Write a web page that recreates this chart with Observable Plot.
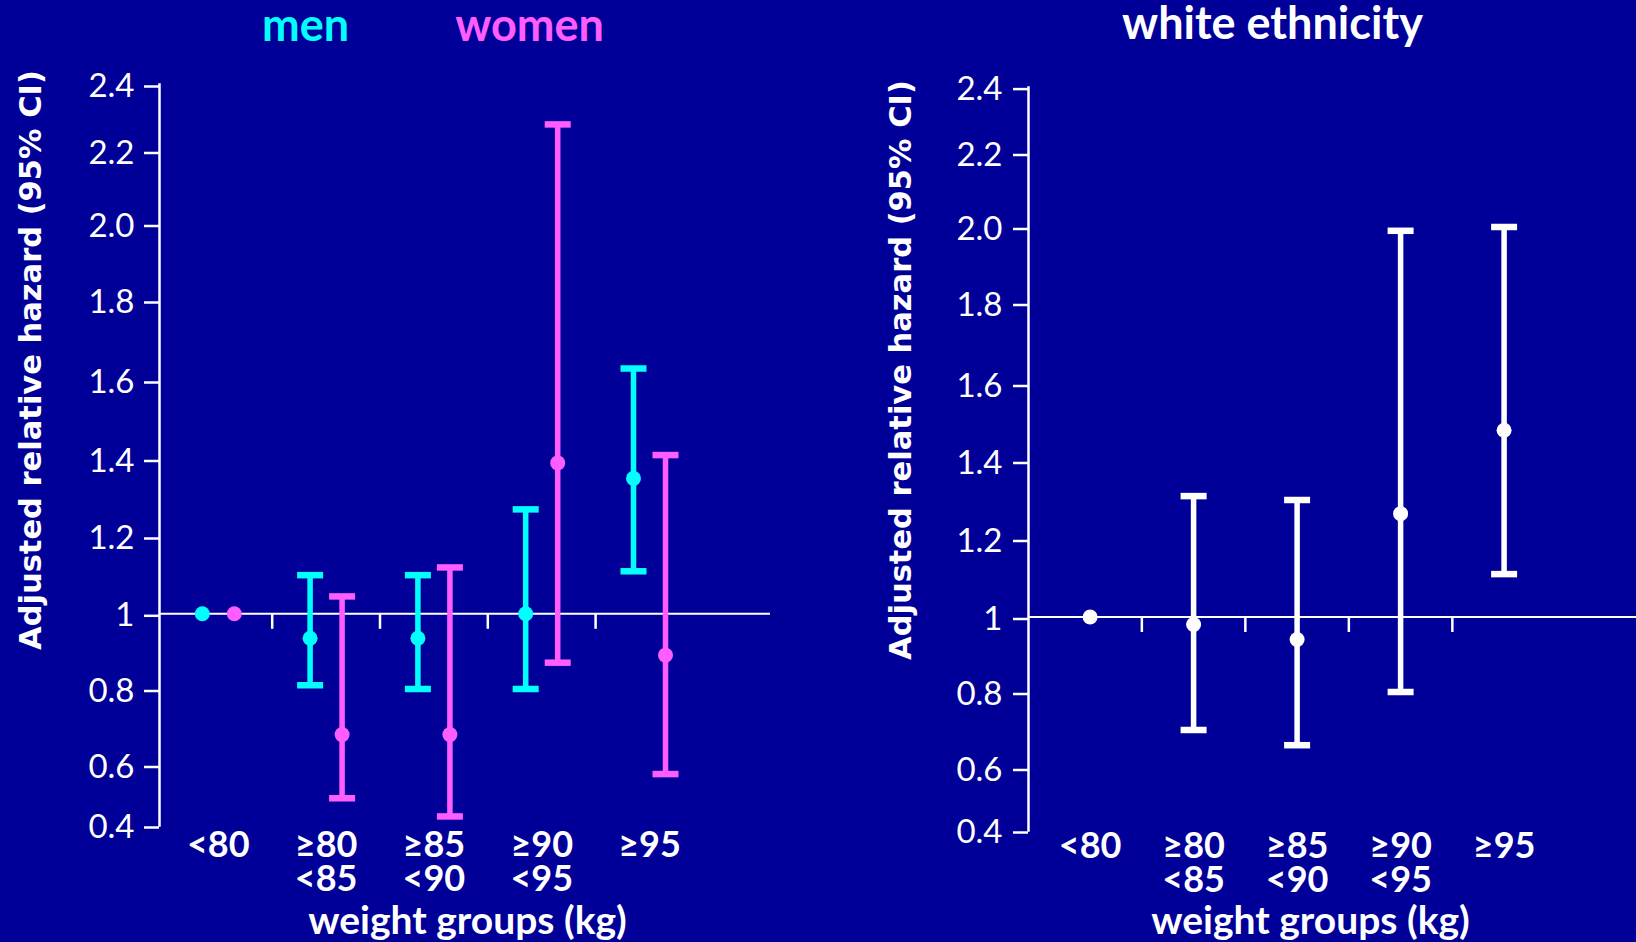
<!DOCTYPE html>
<html><head><meta charset="utf-8">
<script src="https://cdn.jsdelivr.net/npm/d3@7"></script>
<script src="https://cdn.jsdelivr.net/npm/@observablehq/plot@0.6"></script>
<style>
html,body{margin:0;padding:0;background:#000099;}
#wrap{display:flex;width:1636px;height:942px;overflow:hidden;}
#wrap svg{display:block;}
</style></head><body><div id="wrap"></div>
<script>
// ---- data ----
const groups = ["<80", "≥80\n<85", "≥85\n<90", "≥90\n<95", "≥95"];
const yTicks = [0.4, 0.6, 0.8, 1.0, 1.2, 1.4, 1.6, 1.8, 2.0, 2.2, 2.4];
const yTickLabels = ["0.4", "0.6", "0.8", "1", "1.2", "1.4", "1.6", "1.8", "2.0", "2.2", "2.4"];
const refValue = 1;

const menEst = [1.00, 0.935, 0.935, 1.00, 1.35];
const menLo  = [null, 0.81, 0.80, 0.80, 1.11];
const menHi  = [null, 1.10, 1.10, 1.27, 1.63];

const womenEst = [1.00, 0.68, 0.68, 1.39, 0.89];
const womenLo  = [null, 0.49, 0.43, 0.87, 0.57];
const womenHi  = [null, 1.045, 1.12, 2.28, 1.41];

const whiteEst = [1.00, 0.98, 0.94, 1.265, 1.48];
const whiteLo  = [null, 0.70, 0.66, 0.80, 1.11];
const whiteHi  = [null, 1.31, 1.30, 1.99, 2.00];

const yTitle = "Adjusted relative hazard (95% CI)";
const xTitle = "weight groups (kg)";

// ---- styles ----
const BG = "#000099", CYAN = "#00ffff", PINK = "#ff5dff", WHITE = "#ffffff";
const capSymbol = {draw(ctx) { ctx.moveTo(-13, 0); ctx.lineTo(13, 0); }};
const sepSymbol = {draw(ctx) { ctx.moveTo(0, 0); ctx.lineTo(0, 15); }};

const rows = (est, lo, hi) => est.map((e, i) => ({i, est: e, lo: lo[i], hi: hi[i]}));
const seps = d3.range(groups.length - 1).map(i => i + 0.5);

function seriesMarks(data, color, dx) {
  const bars = data.filter(d => d.lo != null);
  return [
    Plot.ruleX(bars, {x: "i", y1: "lo", y2: "hi", dx, stroke: color, strokeWidth: 5.5}),
    Plot.dot(bars, {x: "i", y: "hi", dx, symbol: capSymbol, fill: "none", stroke: color, strokeWidth: 6.5}),
    Plot.dot(bars, {x: "i", y: "lo", dx, symbol: capSymbol, fill: "none", stroke: color, strokeWidth: 6.5}),
    Plot.dot(data, {x: "i", y: "est", dx, r: 7.5, fill: color, stroke: "none"})
  ];
}

function panel({xRange, yRange, marginLeft, marginRight, marginTop, marginBottom, series, titles, yLabel, xLabel, tickPadding, catDy}) {
  return Plot.plot({
    width: 818, height: 942,
    marginLeft, marginRight, marginTop, marginBottom,
    x: {type: "linear", domain: [0, groups.length - 1], range: xRange, axis: null},
    y: {type: "linear", domain: yTicks, range: yRange, axis: null},
    style: {background: BG, color: WHITE, fontFamily: "Lato, sans-serif", overflow: "visible"},
    marks: [
      Plot.frame({anchor: "left", stroke: WHITE, strokeWidth: 2.5}),
      Plot.axisY({ticks: yTicks, tickFormat: (d) => yTickLabels[yTicks.indexOf(d)], tickSize: 15, tickPadding,
        stroke: WHITE, strokeWidth: 2.5, fill: WHITE, fontSize: 33, fontFamily: "Lato, sans-serif", dy: 2}),
      Plot.ruleY([refValue], {stroke: WHITE, strokeWidth: 2}),
      Plot.dot(seps, {x: d => d, y: () => refValue, symbol: sepSymbol, fill: "none", stroke: WHITE, strokeWidth: 2.5}),
      ...series.flatMap(s => seriesMarks(s.data, s.color, s.dx)),
      Plot.text(groups, {x: (d, i) => i, frameAnchor: "bottom", lineAnchor: "top", dy: catDy, lineHeight: 0.95,
        fontSize: 36, fontWeight: "bold", fill: WHITE, fontFamily: "Lato, sans-serif"}),
      Plot.text([xTitle], {frameAnchor: "bottom-left", textAnchor: "middle", lineAnchor: "bottom", dx: xLabel.dx, dy: xLabel.dy,
        fontSize: 39, fontWeight: "bold", fill: WHITE, fontFamily: "Lato, sans-serif"}),
      Plot.text([yTitle], {frameAnchor: "left", textAnchor: "middle", rotate: -90, dx: yLabel.dx, dy: yLabel.dy,
        fontSize: 30.5, fontWeight: "bold", fill: WHITE, fontFamily: "DejaVu Sans, sans-serif"}),
      ...titles.map(t => Plot.text([t.text], {frameAnchor: "top-left", textAnchor: "middle", lineAnchor: "bottom", dx: t.dx, dy: t.dy,
        fontSize: 45, fontWeight: "bold", fill: t.color, fontFamily: "Lato, sans-serif"}))
    ]
  });
}

const left = panel({
  xRange: [217.8, 649], yRange: [825, 764.5, 688.5, 613.3, 536, 458.5, 380, 300, 223.5, 150.5, 84],
  marginLeft: 159, marginRight: 48, marginTop: 84, marginBottom: 117, tickPadding: 10, catDy: 7,
  series: [
    {data: rows(menEst, menLo, menHi), color: CYAN, dx: -16},
    {data: rows(womenEst, womenLo, womenHi), color: PINK, dx: 16}
  ],
  titles: [{text: "men", color: CYAN, dx: 146, dy: -44}, {text: "women", color: PINK, dx: 370, dy: -44}],
  yLabel: {dx: -128, dy: -95},
  xLabel: {dx: 308, dy: 108}
});

const right = panel({
  xRange: [271.6, 685.6], yRange: [830, 767.5, 691.5, 616.5, 538.5, 460.5, 383.5, 302.5, 226.5, 152.5, 86.6],
  marginLeft: 210, marginRight: 0, marginTop: 87, marginBottom: 112, tickPadding: 11, catDy: 3,
  series: [{data: rows(whiteEst, whiteLo, whiteHi), color: WHITE, dx: 0}],
  titles: [{text: "white ethnicity", color: WHITE, dx: 244, dy: -49}],
  yLabel: {dx: -127, dy: -89},
  xLabel: {dx: 282, dy: 103}
});

document.getElementById("wrap").append(left, right);
</script></body></html>
